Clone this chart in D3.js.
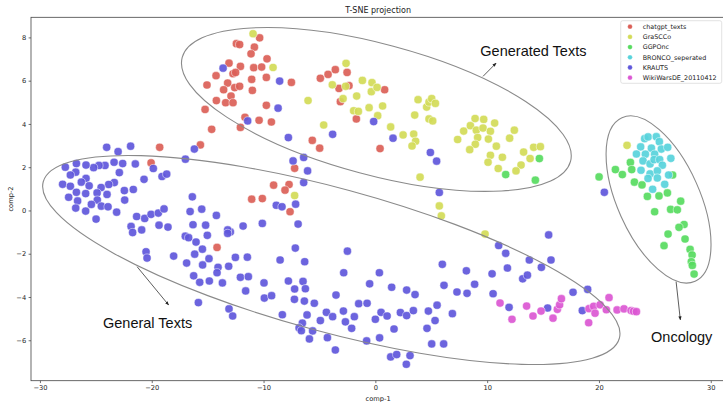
<!DOCTYPE html>
<html>
<head>
<meta charset="UTF-8">
<script src="https://d3js.org/d3.v7.min.js"></script>
<style>
body{ margin:0; background:white; }
text{ font-family: "DejaVu Sans", sans-serif; }
.axis path{ display:none; }
.axis line{ stroke:#333; stroke-width:0.7; }
.axis text{ font-size:6.7px; fill:#222; }
.note{ font-family:"Liberation Sans", Arial, sans-serif; font-size:14.5px; fill:#111; }
</style>
</head>
<body>
<svg width="723" height="402"></svg>
<script>
// points, [comp-1, comp-2]
const chatgpt_texts = [
[-12.43,7.71],[-12.14,7.67],[-13.09,6.81],[-12.07,6.66],[-12.73,6.32],[-12.5,6.38],[-14.25,6.23],[-15.06,5.80],
[-13.21,5.89],[-13.57,5.58],[-12.58,5.68],[-12.14,5.74],[-12.91,5.29],[-14.22,5.08],[-13.39,4.98],[-12.73,4.98],
[-15.23,4.67],[-14.64,3.75],[-12.07,3.84],
[-10.35,7.98],[-10.82,7.55],[-11.12,7.24],[-9.69,7.01],[-10.88,6.60],[-10.17,6.63],[-9.75,6.15],[-11.06,6.06],
[-7.51,5.92],[-11.0,5.55],[-9.75,4.86],[-11.66,4.31],[-10.40,4.17],[-9.3,4.09],[-5.64,3.24],
[-4.92,6.11],[-4.23,6.29],[-3.58,6.51],[-2.53,6.38],[-3.25,5.64],[-2.36,5.77],[-3.13,5.03],[0.83,5.58],[-1.70,4.23],
[0.42,2.86],[-4.98,2.88],[-7.22,1.95],[-9.10,1.17],[-7.72,1.20],[-8.08,0.94],[-11.06,0.52],[-10.11,0.55],[-7.63,-0.06],
[-19.29,2.92],[-15.65,3.03],[-20.06,2.20],[-14.16,-1.71]
]
const GraSCCo = [
[-10.94,8.17],[-9.15,6.61],[-2.62,6.80],[-3.85,5.81],[-2.66,5.74],[-2.89,5.17],[-6.02,5.08],[-1.67,5.29],
[-1.16,6.01],[-0.30,5.91],[-0.36,5.49],[0.15,5.69],[-1.94,4.61],[-1.52,4.58],[-0.56,4.75],[0.65,4.83],[0.21,4.38],
[-4.62,3.95],[1.37,3.86],[2.48,3.49],[3.43,3.53],[3.52,4.41],[3.82,5.12],[4.59,4.78],[4.80,5.01],[5.04,5.17],
[5.37,4.95],[4.80,4.23],[5.13,4.14],[7.36,3.28],[7.9,3.67],[8.5,3.92],
[8.92,4.25],[9.69,4.21],[9.03,3.71],[9.63,3.81],[10.29,3.66],[10.67,4.04],[12.43,3.71],[9.15,3.37],[10.11,3.30],[12.01,3.34],
[8.94,3.06],[8.44,2.81],[10.82,2.97],[10.29,2.55],[11.36,2.46],[10.08,2.23],[10.99,1.94],[13.03,2.10],[13.26,2.70],
[14.16,2.92],[14.76,2.95],[13.84,2.40],[12.58,1.83],
[3.6,3.2],[3.28,2.98],[4.0,1.54],[5.72,0.21],[5.9,-0.25],[-7.22,0.69],
[22.51,3.01],[9.81,-1.09]
]
const GGPOnc = [
[14.67,2.40],[11.66,1.66],[14.31,1.40],
[22.81,2.22],[21.47,1.89],[22.09,1.66],[22.93,1.89],[23.17,1.31],[23.85,1.18],[26.59,1.64],[24.33,0.65],[25.37,0.67],
[26.12,0.81],[27.31,0.43],[24.98,-0.06],[26.41,0.05],[27.01,0.03],[27.61,-0.65],[27.16,-0.78],[26.18,-1.09],
[27.7,-1.32],[25.82,-1.63],[28.15,-1.80],[28.33,-2.06],[28.26,-2.37],[28.35,-2.54],[28.51,-2.94],[20.01,1.55]
]
const BRONCO_seperated = [
[24.09,3.32],[24.39,3.40],[25.13,3.41],[25.4,3.18],[23.73,2.94],[24.69,2.88],[25.58,2.84],[26.15,2.92],[23.35,2.61],
[24.15,2.60],[24.98,2.60],[26.43,2.41],[23.94,2.29],[24.57,2.15],[24.93,2.35],[25.43,2.35],[25.67,2.09],[23.76,1.86],
[24.57,1.69],[25.22,1.83],[24.39,1.48],[25.22,1.50],[26.23,1.64],[25.88,1.21],[24.8,0.98]
]
const KRAUTS = [
[-13.62,6.58],[-8.56,5.98],[-8.70,4.73],[-11.42,4.14],[-7.78,3.37],[-0.15,4.11],[-3.82,3.52],[1.58,3.34],
[4.92,2.68],[5.48,2.28],[5.72,0.83],[-6.41,2.45],[-7.36,2.29],[-6.06,1.83],[-6.41,1.29],[-8.86,0.24],[-8.35,0.17],
[-7.13,0.29],[-11.83,-0.72],[-10.11,-0.6],[-6.91,-0.63],[-7.16,-1.74],[-2.5,-1.88],[-12.52,-2.17],[-11.45,-2.16],
[-8.52,-2.29],[-6.32,-2.37],[5.99,-2.49],[-12.97,-0.99],
[-24.03,2.92],[-21.89,2.97],[-23.01,2.72],[-16.19,2.84],[-16.99,2.37],[-19.86,1.94],[-21.47,2.15],[-22.6,2.17],
[-23.37,2.23],[-24.18,2.08],[-24.72,2.08],[-25.2,1.98],[-25.88,2.10],[-26.74,2.17],[-27.73,2.0],[-26.8,1.77],
[-27.28,1.64],[-25.88,1.48],[-26.3,1.31],[-25.6,1.14],[-27.97,1.21],[-27.28,1.12],[-22.9,1.75],[-23.35,1.29],
[-23.85,1.20],[-24.53,1.06],[-26.74,0.84],[-25.91,0.78],[-24.89,0.81],[-24.0,0.74],[-27.43,0.61],[-26.63,0.44],
[-24.87,0.48],[-25.4,0.28],[-24.51,0.20],[-23.91,0.17],[-26.8,0.11],[-25.91,-0.03],[-24.98,-0.40],[-23.14,-0.08],
[-22.45,0.92],[-22.42,0.48],[-21.65,0.97],[-20.69,1.44],[-19.08,1.57],[-18.66,1.68],[-21.35,-0.28],[-20.63,-0.37],
[-20.06,-0.18],[-19.41,-0.12],[-18.9,0.07],[-21.85,-0.74],[-21.71,-1.02],[-20.9,-0.90],[-19.35,-0.68],[-18.55,-0.77],
[-16.37,0.63],[-16.57,-0.05],[-15.53,0.06],[-14.22,-0.23],[-16.31,-0.66],[-15.18,-0.68],[-13.21,-0.90],[-13.21,-1.06],
[-15.03,-1.15],[-17.0,-1.19],[-16.7,-1.26],[-16.04,-1.46],[-15.47,-1.79],[-16.16,-2.02],[-14.88,-2.23],[-20.51,-1.91],
[-20.42,-2.2],[-18.04,-2.11],[-16.88,-2.43],[-15.45,-2.52],[-14.07,-2.63],[-13.12,-2.58],
[-14.16,-2.88],[-16.25,-3.02],[-15.71,-3.32],[-14.85,-3.26],[-13.68,-3.35],[-15.83,-4.26],[-13.09,-4.55],[-12.76,-4.88],[-12.07,-3.09],
[-11.36,-3.06],[-11.6,-3.72],[-9.96,-3.35],[-9.93,-4.05],[-9.28,-3.94],[-7.78,-3.26],[-7.22,-3.63],[-6.47,-3.28],
[-6.26,-3.62],[-7.24,-4.11],[-6.35,-4.19],[-5.46,-4.29],[-8.32,-4.82],[-6.11,-4.83],[-6.53,-5.21],[-6.82,-5.43],
[-6.62,-5.56],[-5.61,-5.57],[-5.9,-5.94],[-4.92,-5.09],[-4.38,-4.71],[-3.82,-4.91],[-3.52,-3.91],[-4.29,-5.88],
[-3.58,-6.45],[-2.83,-2.88],[-2.86,-4.65],[-2.68,-5.15],[-1.88,-4.91],[-2.12,-5.45],[-1.49,-4.31],[-0.74,-4.29],
[-0.51,-3.39],[0.36,-2.88],[-0.78,-6.03],[0.0,-5.03],[0.51,-4.71],[0.38,-5.89],[1.05,-4.88],[1.46,-3.55],[1.67,-5.48],
[1.37,-6.77],[1.91,-6.66],[2.77,-7.11],[3.1,-6.71],[2.24,-4.72],[2.8,-4.86],[3.4,-4.63],[2.8,-3.68],[3.55,-3.89],
[4.74,-4.65],[5.34,-5.09],[4.62,-5.45],[5.04,-6.17],[6.11,-6.17],[5.52,-4.38],[6.14,-3.46],[6.89,-4.77],[7.3,-3.77],
[8.2,-3.83],[8.14,-2.79],
[8.88,-3.41],[10.44,-2.93],[10.53,-3.85],[11.81,-2.66],[11.96,-4.48],[13.18,-3.16],[13.6,-2.99],[13.77,-2.29],
[14.85,-2.63],[15.71,-2.29],[15.41,-4.51],[17.68,-3.78],[18.99,-3.65],[18.51,-4.63],
[15.5,-1.13],[11.03,-1.62],[11.66,-1.98],[20.48,0.84]
]
const WikiWarsDE_20110412 = [
[11.15,-4.28],[12.22,-5.03],[13.53,-4.42],[14.1,-4.88],[14.82,-4.65],[15.89,-4.98],[16.28,-4.57],[16.48,-4.36],
[16.64,-4.08],[19.08,-5.19],[19.11,-4.54],[19.53,-4.43],[19.65,-4.75],[20.1,-4.36],[20.66,-4.59],[20.9,-4.03],
[21.62,-4.6],[22.24,-4.55],[22.87,-4.63],[23.1,-4.66],[23.35,-4.68]
]

const groups = ["chatgpt_texts", "GraSCCo", "GGPOnc", "BRONCO_seperated", "KRAUTS", "WikiWarsDE_20110412"]
const groupData = [chatgpt_texts, GraSCCo, GGPOnc, BRONCO_seperated, KRAUTS, WikiWarsDE_20110412]
const colors = ["#db5f57", "#d3db57", "#57db5f", "#57d3db", "#5f57db", "#db57d3"]

const xTicks = [-30, -20, -10, 0, 10, 20, 30]
const yTicks = [-6, -4, -2, 0, 2, 4, 6, 8]

// ellipses: centre in data units, radii in px, rotation in degrees
const ellipses = [
  {cx: 0.09, cy: 4.67, rx: 201, ry: 65.5, rot: 15},
  {cx: -3.94, cy: -2.29, rx: 298.5, ry: 71.8, rot: 15.2},
  {cx: 25.33, cy: 0.51, rx: 89.6, ry: 41.2, rot: 65.9}
]
// annotations: text position and arrow from -> to, in data units
const notes = [
  {label: "Generated Texts", tx: 9.39, ty: 7.12, x1: 9.63, y1: 6.2, x2: 10.8, y2: 6.81},
  {label: "General Texts", tx: -24.36, ty: -5.42, x1: -21.31, y1: -2.6, x2: -18.49, y2: -4.37},
  {label: "Oncology", tx: 24.66, ty: -6.06, x1: 26.9, y1: -3.29, x2: 27.28, y2: -5.06}
]

const svg = d3.select("svg")
const plotLeft = 31, plotTop = 17.3, plotBottom = 380.7

const x = d3.scaleLinear().domain([-30.8, 31.3]).range([plotLeft, 725.3])
const y = d3.scaleLinear().domain([-7.87, 8.93]).range([plotBottom, plotTop])

svg.append("defs").append("marker")
  .attr("id", "head")
  .attr("viewBox", "0 0 10 10")
  .attr("refX", 9).attr("refY", 5)
  .attr("markerWidth", 5).attr("markerHeight", 5)
  .attr("orient", "auto")
  .append("path").attr("d", "M0,1L10,5L0,9z").attr("fill", "#222")

// axes
svg.append("g").attr("class", "axis")
  .attr("transform", "translate(0," + plotBottom + ")")
  .call(d3.axisBottom(x).tickValues(xTicks).tickSize(2.4).tickPadding(2.4))

svg.append("g").attr("class", "axis")
  .attr("transform", "translate(" + plotLeft + ",0)")
  .call(d3.axisLeft(y).tickValues(yTicks).tickSize(2.4).tickPadding(2.4))

// points
groupData.forEach(function(d, i) {
  svg.append("g").selectAll("circle")
    .data(d)
    .join("circle")
    .attr("cx", function(p) { return x(p[0]) })
    .attr("cy", function(p) { return y(p[1]) })
    .attr("r", 4.1)
    .style("fill", colors[i])
    .style("fill-opacity", 0.92)
    .style("stroke", "white")
    .style("stroke-width", 0.5)
})

// frame
svg.append("rect")
  .attr("x", plotLeft).attr("y", plotTop)
  .attr("width", x.range()[1] - plotLeft).attr("height", plotBottom - plotTop)
  .style("fill", "none").style("stroke", "#444").style("stroke-width", 0.8)

// ellipses
svg.append("g").selectAll("ellipse")
  .data(ellipses)
  .join("ellipse")
  .attr("transform", function(d) { return "translate(" + x(d.cx) + "," + y(d.cy) + ") rotate(" + d.rot + ")" })
  .attr("rx", function(d) { return d.rx })
  .attr("ry", function(d) { return d.ry })
  .style("fill", "none").style("stroke", "#8a8a8a").style("stroke-width", 1.1)

// annotations
notes.forEach(function(n) {
  svg.append("line")
    .attr("x1", x(n.x1)).attr("y1", y(n.y1))
    .attr("x2", x(n.x2)).attr("y2", y(n.y2))
    .style("stroke", "#333").style("stroke-width", 0.8)
    .attr("marker-end", "url(#head)")
  svg.append("text").attr("class", "note")
    .attr("x", x(n.tx)).attr("y", y(n.ty))
    .text(n.label)
})

// titles
svg.append("text").attr("x", (plotLeft + x.range()[1]) / 2).attr("y", 13)
  .attr("text-anchor", "middle").style("font-size", "8px").style("fill", "#222")
  .text("T-SNE projection")
svg.append("text").attr("x", (plotLeft + x.range()[1]) / 2).attr("y", 400.5)
  .attr("text-anchor", "middle").style("font-size", "6.7px").style("fill", "#222")
  .text("comp-1")
svg.append("text").attr("transform", "translate(12.5," + ((plotTop + plotBottom) / 2) + ") rotate(-90)")
  .attr("text-anchor", "middle").style("font-size", "6.7px").style("fill", "#222")
  .text("comp-2")

// legend
const legend = svg.append("g").attr("transform", "translate(620.7,20.7)")
legend.append("rect")
  .attr("width", 101).attr("height", 62.6).attr("rx", 2)
  .style("fill", "white").style("fill-opacity", 0.8)
  .style("stroke", "#d6d6d6").style("stroke-width", 0.7)
groups.forEach(function(g, i) {
  legend.append("circle").attr("cx", 9.3).attr("cy", 6 + i * 10.2).attr("r", 2.4)
    .style("fill", colors[i]).style("stroke", "white").style("stroke-width", 0.3)
  legend.append("text").attr("x", 22).attr("y", 8.4 + i * 10.2)
    .style("font-size", "6.4px").style("fill", "#222")
    .text(g)
})
</script>
</body>
</html>
